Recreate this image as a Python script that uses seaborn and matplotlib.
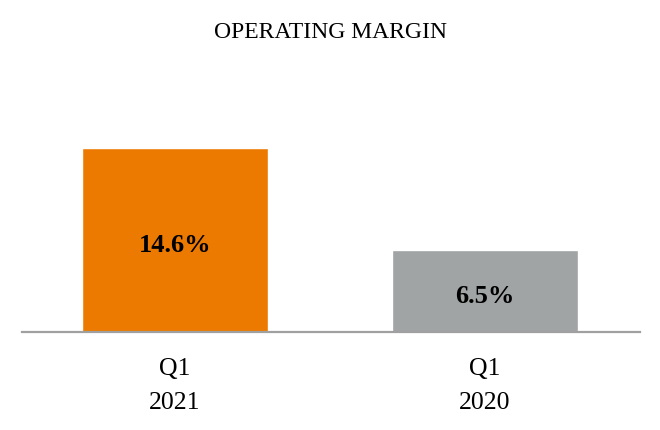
import matplotlib
matplotlib.use("Agg")
import matplotlib.pyplot as plt
import seaborn as sns
import pandas as pd

# Data
periods = ["Q1\n2021", "Q1\n2020"]
margins = [14.6, 6.5]
bar_colors = ["#EC7A00", "#A0A4A5"]

sns.set_style("white")
plt.rcParams["font.family"] = ["Liberation Serif", "DejaVu Serif"]
plt.rcParams["text.color"] = "black"
plt.rcParams["xtick.color"] = "black"

df = pd.DataFrame({"period": periods, "margin": margins})

fig = plt.figure(figsize=(6.6, 4.3), dpi=100)
ax = fig.add_axes([22 / 660, (430 - 332) / 430, 618 / 660, 184 / 430])

sns.barplot(data=df, x="period", y="margin", hue="period", palette=bar_colors,
            width=0.6, saturation=1, legend=False, ax=ax)

ax.set_xlim(-0.4935, 1.5)
ax.set_ylim(0, 14.6)
ax.set_xlabel("")
ax.set_ylabel("")
ax.set_yticks([])
sns.despine(ax=ax, left=True, top=True, right=True)
ax.spines["bottom"].set_color("#A0A0A0")
ax.spines["bottom"].set_linewidth(1.6)
ax.tick_params(axis="x", length=0, pad=18.5, labelsize=18.5, labelcolor="black")
for lbl in ax.get_xticklabels():
    lbl.set_linespacing(1.7)

# value labels a touch below the middle of each bar
for i, v in enumerate(margins):
    ax.text(i, v / 2 - 0.25, f"{v}%", ha="center", va="center_baseline",
            fontsize=19, fontweight="bold", color="black")

fig.text(0.5, 1 - 33 / 430, "OPERATING MARGIN", ha="center", va="center",
         fontsize=17, color="black")

fig.savefig("out.png", dpi=100, facecolor="white")
